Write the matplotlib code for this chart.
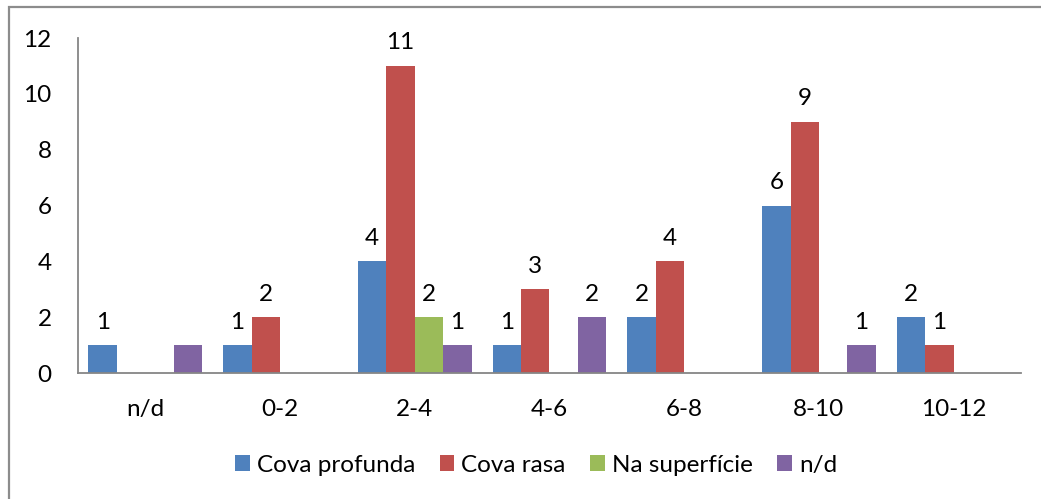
import numpy as np
import matplotlib
matplotlib.use('Agg')
import matplotlib.pyplot as plt
from matplotlib.patches import Rectangle

plt.rcParams['font.family'] = ['Lato', 'DejaVu Sans']

# Chart data
categories = ['n/d', '0-2', '2-4', '4-6', '6-8', '8-10', '10-12']
series_names = ['Cova profunda', 'Cova rasa', 'Na superfície', 'n/d']
cova_profunda = [1, 1, 4, 1, 2, 6, 2]
cova_rasa = [0, 2, 11, 3, 4, 9, 1]
na_superficie = [0, 0, 2, 0, 0, 0, 0]
nd_values = [1, 0, 1, 2, 0, 1, 0]
# labels as shown on the chart (the first purple bar has none)
cova_profunda_labels = ['1', '1', '4', '1', '2', '6', '2']
cova_rasa_labels = ['', '2', '11', '3', '4', '9', '1']
na_superficie_labels = ['', '', '2', '', '', '', '']
nd_labels = ['', '', '1', '2', '', '1', '']
y_ticks = [0, 2, 4, 6, 8, 10, 12]

colors = ['#4F81BD', '#C0504D', '#9BBB59', '#8064A2']
all_values = [cova_profunda, cova_rasa, na_superficie, nd_values]
all_labels = [cova_profunda_labels, cova_rasa_labels, na_superficie_labels, nd_labels]

fs = 17.5

fig = plt.figure(figsize=(10.41, 4.99), dpi=100)
ax = fig.add_axes([0.0749, 0.2525, 0.9059, 0.6713])

x = np.arange(len(categories))
width = 0.211
for i, (name, vals, labs, col) in enumerate(zip(series_names, all_values, all_labels, colors)):
    bars = ax.bar(x + (i - 1.5) * width, vals, width, color=col, label=name)
    ax.bar_label(bars, labels=labs, padding=9, fontsize=fs)

ax.set_xlim(-0.5, len(categories) - 0.5)
ax.set_ylim(0, 12)
ax.set_yticks(y_ticks)
ax.set_xticks(x)
ax.set_xticklabels(categories)
ax.tick_params(axis='both', length=0, labelsize=fs)
ax.tick_params(axis='y', pad=19)
ax.tick_params(axis='x', pad=19)

for side in ['top', 'right']:
    ax.spines[side].set_visible(False)
for side in ['left', 'bottom']:
    ax.spines[side].set_color('#868686')
    ax.spines[side].set_linewidth(1.3)

# outer chart border (only top and left edges fall inside the image)
fig.add_artist(Rectangle((0.0087, -0.2), 1.2, 1.185, transform=fig.transFigure,
                         fill=False, edgecolor='#8C8C8C', linewidth=1.6, clip_on=False))

fig.legend(loc='center', bbox_to_anchor=(0.515, 0.068), ncol=4, frameon=False,
           fontsize=fs, handlelength=0.6, handleheight=0.6, handletextpad=0.3,
           columnspacing=1.0)

fig.savefig('out.png', dpi=100)
